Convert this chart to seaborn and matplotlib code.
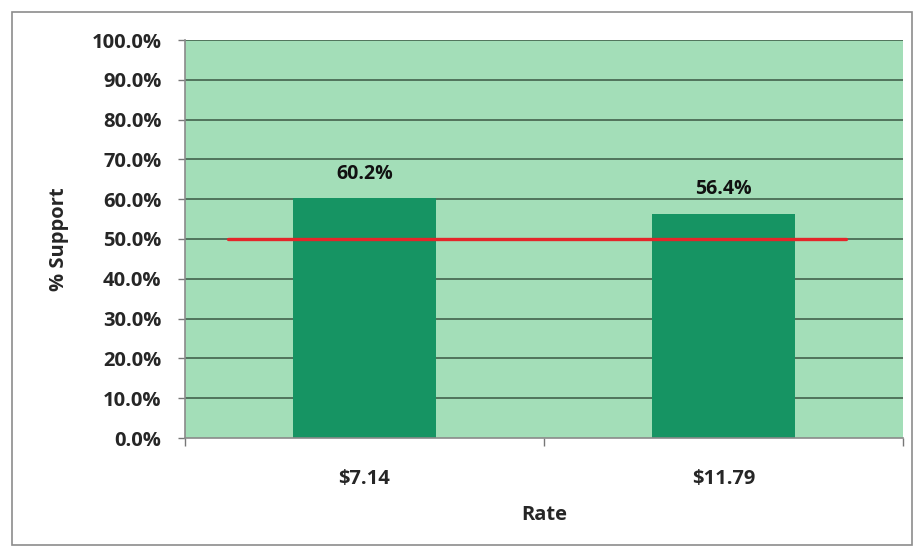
import matplotlib
matplotlib.use("Agg")
import matplotlib.pyplot as plt
from matplotlib.patches import Rectangle
from matplotlib.ticker import FuncFormatter, FixedLocator
import seaborn as sns
import pandas as pd

rates = ["$7.14", "$11.79"]
support = [60.2, 56.4]
value_labels = ["60.2%", "56.4%"]
threshold = 50.0
yticks = [0, 10, 20, 30, 40, 50, 60, 70, 80, 90, 100]

sns.set_theme(style="white")
plt.rcParams["font.family"] = ["Open Sans", "DejaVu Sans"]

FS = 14.5

df = pd.DataFrame({"Rate": rates, "Support": support})

fig = plt.figure(figsize=(9.16, 5.49), dpi=100)
ax = fig.add_axes([185 / 916, 111 / 549, 718 / 916, 398 / 549])
ax.set_facecolor("#a3deb8")

sns.barplot(data=df, x="Rate", y="Support", color="#169463", width=0.4,
            saturation=1, linewidth=0, ax=ax, zorder=3)

for y in yticks[1:]:
    ax.axhline(y, color="#4a6b55", lw=1.3, zorder=1)

ax.plot([-0.38, 1.34], [threshold, threshold], color="#e4262a", lw=2.4, zorder=4)

for i, (v, lab) in enumerate(zip(support, value_labels)):
    ax.text(i, v + 6.2, lab, ha="center", va="center", fontsize=FS - 0.5,
            fontweight="bold", color="#111111", zorder=5)

ax.set_xlim(-0.5, 1.5)
ax.set_ylim(0, 100)
ax.set_yticks(yticks)
ax.yaxis.set_major_formatter(FuncFormatter(lambda v, p: f"{v:.1f}%"))
ax.tick_params(axis="y", labelsize=FS, length=5, width=1, color="#777777",
               left=True, pad=12)
for t in ax.get_yticklabels():
    t.set_fontweight("bold")

ax.xaxis.set_minor_locator(FixedLocator([-0.5, 0.5, 1.5]))
ax.tick_params(axis="x", which="major", length=0, labelsize=FS, pad=22)
ax.tick_params(axis="x", which="minor", length=6, width=1, color="#777777",
               bottom=True)
for t in ax.get_xticklabels():
    t.set_fontweight("bold")

for side in ["top", "right"]:
    ax.spines[side].set_visible(False)
for side in ["left", "bottom"]:
    ax.spines[side].set_color("#8a8a8a")
    ax.spines[side].set_linewidth(1.2)
    ax.spines[side].set_zorder(6)

ax.set_xlabel("Rate", fontsize=FS, fontweight="bold", labelpad=12)
ax.set_ylabel("% Support", fontsize=FS, fontweight="bold", labelpad=16)

fig.patches.append(Rectangle((12 / 916, 4 / 549), 900 / 916, 533 / 549,
                             transform=fig.transFigure, fill=False,
                             edgecolor="#8c8c8c", lw=1.2))

fig.savefig("out.png", dpi=100)
